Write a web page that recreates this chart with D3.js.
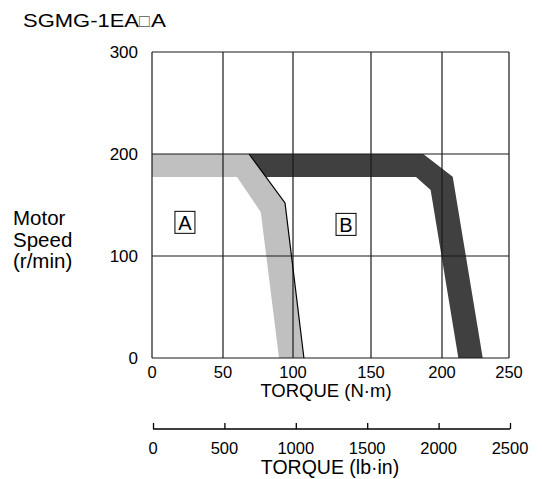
<!DOCTYPE html>
<html lang="en">
<head>
<meta charset="UTF-8">
<title>SGMG-1EA Torque-Speed</title>
<script src="https://d3js.org/d3.v7.min.js"></script>
<style>
  body { margin: 0; background: #fff; }
  text { font-family: "Liberation Sans", Arial, sans-serif; fill: #000; }
</style>
</head>
<body>
<div id="chart"></div>
<script>
// data
var torqueTicks = [0, 50, 100, 150, 200, 250];       // N·m
var torqueLbTicks = [0, 500, 1000, 1500, 2000, 2500]; // lb·in
var speedTicks = [0, 100, 200, 300];                  // r/min

// region A (continuous, light) : [torque, speed]
var regionA = [[0, 200], [68.6, 200], [94.3, 152], [107, 0], [90, 0], [77, 143], [60, 177.5], [0, 177.5]];
// region B (intermittent, dark)
var regionB = [[68.6, 200], [186.8, 200], [208, 177.7], [230.4, 0], [212.2, 0], [192, 164.7], [181.7, 177.5], [80.7, 177.5]];
// outline drawn on the outer edge of A
var edgeA = [[68.6, 200], [94.3, 152], [107, 0]];

var labels = [{name: "A", t: 23.2, s: 133}, {name: "B", t: 134, s: 131}];

var width = 542, height = 479;

var svg = d3.select("#chart").append("svg")
  .attr("width", width)
  .attr("height", height);

// grid in the source is not perfectly even, so piecewise
var x = d3.scaleLinear().domain(torqueTicks).range([152, 223, 293, 371, 442, 509]);
var y = d3.scaleLinear().domain([0, 300]).range([358, 52]);
var xLb = d3.scaleLinear().domain([0, 2500]).range([153, 510]);

var line = d3.line().x(function(d) { return x(d[0]); }).y(function(d) { return y(d[1]); });

// fills
svg.append("path").attr("d", line(regionB) + "Z").attr("fill", "#404040");
svg.append("path").attr("d", line(regionA) + "Z").attr("fill", "#c0c0c0");

// grid
svg.selectAll(".vgrid").data(torqueTicks).enter().append("line")
  .attr("x1", function(d) { return x(d); }).attr("x2", function(d) { return x(d); })
  .attr("y1", y(0)).attr("y2", y(300))
  .attr("stroke", "#1a1a1a").attr("stroke-width", 1.2);
svg.selectAll(".hgrid").data(speedTicks).enter().append("line")
  .attr("x1", x(0)).attr("x2", x(250))
  .attr("y1", function(d) { return y(d); }).attr("y2", function(d) { return y(d); })
  .attr("stroke", "#1a1a1a").attr("stroke-width", 1.2);

// outer edge of A
svg.append("path").attr("d", line(edgeA)).attr("fill", "none")
  .attr("stroke", "#000").attr("stroke-width", 1.2);

// boxed labels
var lab = svg.selectAll(".lab").data(labels).enter().append("g")
  .attr("transform", function(d) { return "translate(" + x(d.t) + "," + y(d.s) + ")"; });
lab.append("rect").attr("x", -10).attr("y", -11).attr("width", 20).attr("height", 22)
  .attr("fill", "#fff").attr("stroke", "#000").attr("stroke-width", 1);
lab.append("text").attr("text-anchor", "middle").attr("y", 7.5)
  .style("font-size", "20px").text(function(d) { return d.name; });

// y tick labels
svg.selectAll(".ylab").data(speedTicks).enter().append("text")
  .attr("x", 138).attr("y", function(d) { return y(d) + 6; })
  .attr("text-anchor", "end").style("font-size", "17px")
  .text(function(d) { return d; });

// upper x tick labels
svg.selectAll(".xlab").data(torqueTicks).enter().append("text")
  .attr("x", function(d) { return x(d); }).attr("y", 378)
  .attr("text-anchor", "middle").style("font-size", "16.5px")
  .text(function(d) { return d; });

svg.append("text").attr("x", 326).attr("y", 397).attr("text-anchor", "middle")
  .style("font-size", "18.5px").text("TORQUE (N·m)");

// lower axis (lb·in)
var axisLb = d3.axisTop(xLb).tickValues(torqueLbTicks).tickSize(6).tickFormat("");
var gLb = svg.append("g").attr("transform", "translate(0,429)").call(axisLb);
gLb.select(".domain").attr("stroke", "#000").attr("stroke-width", 1.3).attr("d", "M" + xLb(0) + ",0H" + xLb(2500));
gLb.selectAll(".tick line").attr("stroke", "#000").attr("stroke-width", 1.3);

svg.selectAll(".lblab").data(torqueLbTicks).enter().append("text")
  .attr("x", function(d) { return xLb(d); }).attr("y", 454)
  .attr("text-anchor", "middle").style("font-size", "16.5px")
  .text(function(d) { return d; });

svg.append("text").attr("x", 330).attr("y", 474).attr("text-anchor", "middle")
  .style("font-size", "19.5px").text("TORQUE (lb·in)");

// y title
var yt = svg.append("text").style("font-size", "20.5px");
yt.append("tspan").attr("x", 13).attr("y", 225).text("Motor");
yt.append("tspan").attr("x", 13).attr("y", 247).text("Speed");
yt.append("tspan").attr("x", 13).attr("y", 268).text("(r/min)");

// model title (source lettering is wide)
svg.append("text").attr("x", 23).attr("y", 27).style("font-size", "17.5px")
  .attr("textLength", 116).attr("lengthAdjust", "spacingAndGlyphs")
  .text("SGMG-1EA");
svg.append("text").attr("x", 139).attr("y", 27).style("font-size", "17.5px")
  .style("fill", "#555").text("□");
svg.append("text").attr("x", 151).attr("y", 27).style("font-size", "17.5px")
  .attr("textLength", 15).attr("lengthAdjust", "spacingAndGlyphs")
  .text("A");
</script>
</body>
</html>
